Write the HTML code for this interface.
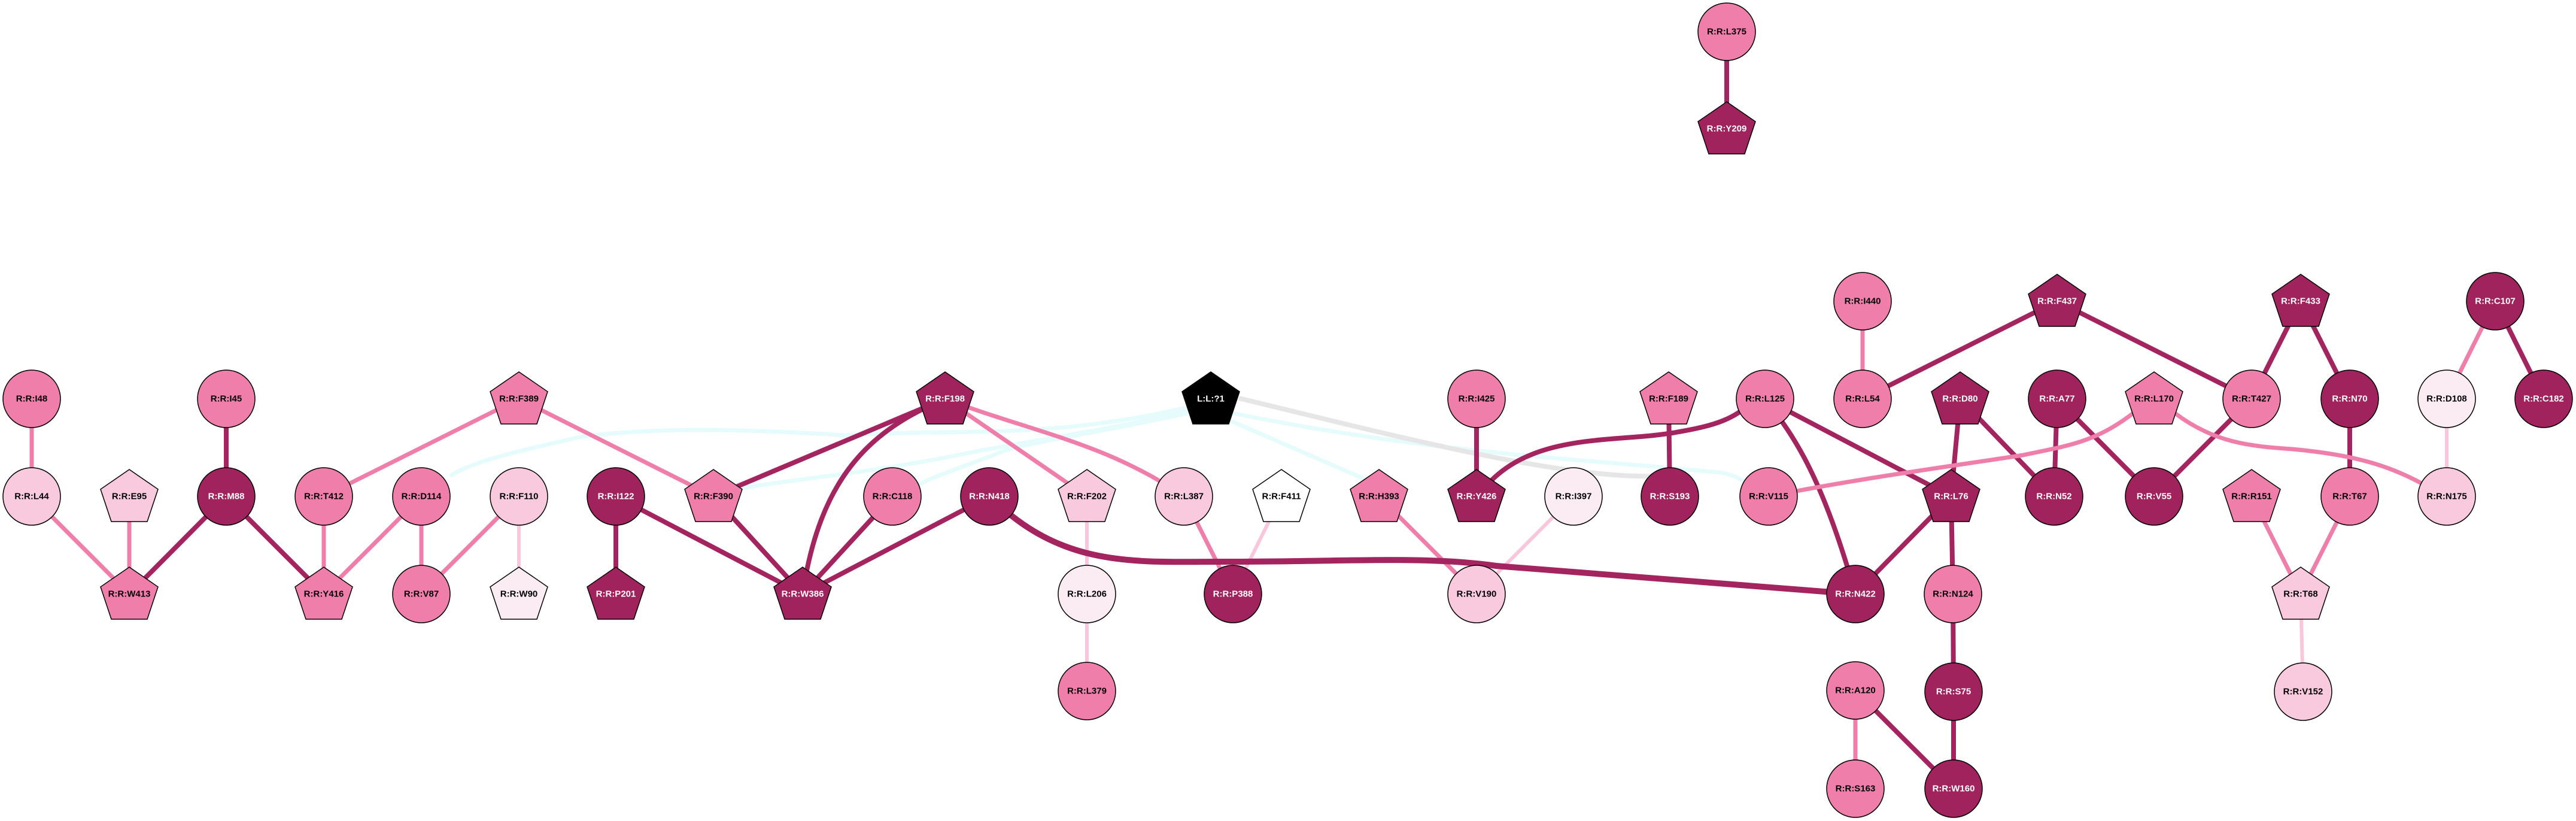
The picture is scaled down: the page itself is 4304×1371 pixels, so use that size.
<!DOCTYPE html>
<html><head><meta charset="utf-8"><style>
html,body{margin:0;padding:0;background:#fff;}
svg{display:block;}
text{font-family:"Liberation Sans",sans-serif;font-weight:bold;font-size:15px;text-anchor:middle;dominant-baseline:central;}
.w{fill:#fff}.b{fill:#000}
.d{stroke:#A3245F;stroke-width:8;fill:none}
.m{stroke:#F07EAA;stroke-width:7;fill:none}
.l{stroke:#F9C6DB;stroke-width:6;fill:none}
.c{stroke:#E6FCFC;stroke-width:7;fill:none}
.g{stroke:#E6E6E6;stroke-width:8;fill:none}
.n{stroke:#000;stroke-width:1.5}
</style></head><body>
<svg width="4304" height="1371" viewBox="0 0 4304 1371" xmlns="http://www.w3.org/2000/svg">
<defs><polygon id="pt" points="0,-45 48,-12 30,42 -30,42 -48,-12"/></defs>
<path class="c" d="M1985,680 C1750,735 1600,715 1414,727 C1250,717 1100,712 968,730 C860,755 790,770 752,795"/>
<path class="c" d="M1985,685 C1850,720 1750,730 1600,760 C1450,790 1330,800 1240,815"/>
<path class="c" d="M1985,690 C1800,730 1700,740 1660,760 C1580,790 1550,800 1535,810"/>
<path class="c" d="M2050,700 L2280,800"/>
<path class="c" d="M2060,690 C2400,760 2700,770 2880,790 C2900,795 2910,800 2915,805"/>
<path class="g" d="M2070,665 C2300,720 2600,800 2765,795"/>
<line class="m" x1="53" y1="666" x2="53" y2="829"/>
<line class="m" x1="53" y1="829" x2="216" y2="992"/>
<line class="m" x1="216" y1="829" x2="216" y2="992"/>
<line class="d" x1="378" y1="666" x2="378" y2="829"/>
<line class="d" x1="378" y1="829" x2="216" y2="992"/>
<line class="d" x1="378" y1="829" x2="541" y2="992"/>
<line class="m" x1="867" y1="666" x2="541" y2="829"/>
<line class="m" x1="867" y1="666" x2="1192" y2="829"/>
<line class="m" x1="541" y1="829" x2="541" y2="992"/>
<line class="m" x1="704" y1="829" x2="541" y2="992"/>
<line class="m" x1="704" y1="829" x2="704" y2="992"/>
<line class="m" x1="867" y1="829" x2="704" y2="992"/>
<line class="l" x1="867" y1="829" x2="867" y2="992"/>
<line class="d" x1="1029" y1="829" x2="1029" y2="992"/>
<line class="d" x1="1029" y1="829" x2="1341" y2="992"/>
<line class="d" x1="1192" y1="829" x2="1341" y2="992"/>
<line class="d" x1="1579" y1="666" x2="1192" y2="829"/>
<path class="d" d="M1579,666 C1450,720 1370,800 1341,992"/>
<line class="d" x1="1491" y1="829" x2="1341" y2="992"/>
<line class="d" x1="1653" y1="829" x2="1341" y2="992"/>
<line class="m" x1="1579" y1="666" x2="1816" y2="829"/>
<path class="m" d="M1579,666 C1720,720 1850,740 1978,829"/>
<line class="l" x1="1816" y1="829" x2="1816" y2="1154"/>
<line class="m" x1="1978" y1="829" x2="2060" y2="992"/>
<line class="l" x1="2141" y1="829" x2="2060" y2="992"/>
<line class="m" x1="2304" y1="829" x2="2467" y2="992"/>
<line class="l" x1="2629" y1="829" x2="2467" y2="992"/>
<line class="d" x1="2467" y1="666" x2="2467" y2="829"/>
<line class="d" x1="2788" y1="666" x2="2790" y2="829"/>
<path class="d" d="M2480,815 C2560,720 2700,740 2800,722 C2870,710 2895,700 2930,670"/>
<path class="d" style="stroke-width:10" d="M1660,835 C1780,950 1900,938 2050,938 C2250,938 2380,928 2500,945 L3100,992"/>
<path class="d" d="M2949,666 C2990,720 3040,780 3100,992"/>
<line class="d" x1="2949" y1="666" x2="3260" y2="829"/>
<line class="d" x1="3275" y1="666" x2="3260" y2="829"/>
<line class="d" x1="3275" y1="666" x2="3432" y2="829"/>
<line class="d" x1="3437" y1="666" x2="3432" y2="829"/>
<line class="d" x1="3437" y1="666" x2="3599" y2="829"/>
<line class="d" x1="3762" y1="666" x2="3599" y2="829"/>
<line class="d" x1="3260" y1="829" x2="3100" y2="992"/>
<line class="d" x1="3260" y1="829" x2="3263" y2="992"/>
<line class="d" x1="3263" y1="992" x2="3264" y2="1155"/>
<line class="d" x1="3264" y1="1155" x2="3264" y2="1317"/>
<line class="d" x1="3100" y1="1153" x2="3264" y2="1317"/>
<line class="m" x1="3100" y1="1153" x2="3100" y2="1317"/>
<line class="m" x1="3112" y1="503" x2="3112" y2="666"/>
<line class="d" x1="3437" y1="503" x2="3112" y2="666"/>
<line class="d" x1="3437" y1="503" x2="3762" y2="666"/>
<line class="d" x1="3844" y1="503" x2="3762" y2="666"/>
<line class="d" x1="3844" y1="503" x2="3926" y2="666"/>
<line class="d" x1="3926" y1="666" x2="3926" y2="829"/>
<line class="m" x1="3926" y1="829" x2="3844" y2="992"/>
<line class="m" x1="3762" y1="829" x2="3844" y2="992"/>
<line class="l" x1="3844" y1="992" x2="3848" y2="1155"/>
<line class="m" x1="4169" y1="503" x2="4088" y2="666"/>
<line class="d" x1="4169" y1="503" x2="4250" y2="666"/>
<line class="l" x1="4088" y1="666" x2="4088" y2="829"/>
<path class="m" d="M3564,690 C3500,740 3450,745 3380,760 C3250,780 3100,800 2955,829"/>
<path class="m" d="M3634,690 C3700,740 3760,745 3830,750 C3940,760 4000,780 4060,815"/>
<line class="d" x1="2885" y1="53" x2="2885" y2="215"/>
<g class="n">
<circle cx="53" cy="666" r="48" fill="#F07EAA"/>
<circle cx="378" cy="666" r="48" fill="#F07EAA"/>
<use href="#pt" x="867" y="666" fill="#F07EAA"/>
<use href="#pt" x="1579" y="666" fill="#A0235E"/>
<use href="#pt" x="2023" y="666" fill="#000"/>
<circle cx="2467" cy="666" r="48" fill="#F07EAA"/>
<use href="#pt" x="2788" y="666" fill="#F07EAA"/>
<circle cx="53" cy="829" r="48" fill="#F9C9DD"/>
<use href="#pt" x="216" y="829" fill="#F9C9DD"/>
<circle cx="378" cy="829" r="48" fill="#A0235E"/>
<circle cx="541" cy="829" r="48" fill="#F07EAA"/>
<circle cx="704" cy="829" r="48" fill="#F07EAA"/>
<circle cx="867" cy="829" r="48" fill="#F9C9DD"/>
<circle cx="1029" cy="829" r="48" fill="#A0235E"/>
<use href="#pt" x="1192" y="829" fill="#F07EAA"/>
<circle cx="1491" cy="829" r="48" fill="#F07EAA"/>
<circle cx="1653" cy="829" r="48" fill="#A0235E"/>
<use href="#pt" x="1816" y="829" fill="#F9C9DD"/>
<circle cx="1978" cy="829" r="48" fill="#F9C9DD"/>
<use href="#pt" x="2141" y="829" fill="#fff"/>
<use href="#pt" x="2304" y="829" fill="#F07EAA"/>
<use href="#pt" x="2467" y="829" fill="#A0235E"/>
<circle cx="2629" cy="829" r="48" fill="#FBEBF2"/>
<circle cx="2790" cy="829" r="48" fill="#A0235E"/>
<use href="#pt" x="216" y="992" fill="#F07EAA"/>
<use href="#pt" x="541" y="992" fill="#F07EAA"/>
<circle cx="704" cy="992" r="48" fill="#F07EAA"/>
<use href="#pt" x="867" y="992" fill="#FBEBF2"/>
<use href="#pt" x="1029" y="992" fill="#A0235E"/>
<use href="#pt" x="1341" y="992" fill="#A0235E"/>
<circle cx="1816" cy="992" r="48" fill="#FBEBF2"/>
<circle cx="2060" cy="992" r="48" fill="#A0235E"/>
<circle cx="2467" cy="992" r="48" fill="#F9C9DD"/>
<circle cx="1816" cy="1154" r="48" fill="#F07EAA"/>
<circle cx="2885" cy="53" r="48" fill="#F07EAA"/>
<use href="#pt" x="2885" y="215" fill="#A0235E"/>
<circle cx="3112" cy="503" r="48" fill="#F07EAA"/>
<use href="#pt" x="3437" y="503" fill="#A0235E"/>
<use href="#pt" x="3844" y="503" fill="#A0235E"/>
<circle cx="4169" cy="503" r="48" fill="#A0235E"/>
<circle cx="2949" cy="666" r="48" fill="#F07EAA"/>
<circle cx="3112" cy="666" r="48" fill="#F07EAA"/>
<use href="#pt" x="3275" y="666" fill="#A0235E"/>
<circle cx="3437" cy="666" r="48" fill="#A0235E"/>
<use href="#pt" x="3599" y="666" fill="#F07EAA"/>
<circle cx="3762" cy="666" r="48" fill="#F07EAA"/>
<circle cx="3926" cy="666" r="48" fill="#A0235E"/>
<circle cx="4088" cy="666" r="48" fill="#FBEBF2"/>
<circle cx="4250" cy="666" r="48" fill="#A0235E"/>
<circle cx="2955" cy="829" r="48" fill="#F07EAA"/>
<use href="#pt" x="3260" y="829" fill="#A0235E"/>
<circle cx="3432" cy="829" r="48" fill="#A0235E"/>
<circle cx="3599" cy="829" r="48" fill="#A0235E"/>
<use href="#pt" x="3762" y="829" fill="#F07EAA"/>
<circle cx="3926" cy="829" r="48" fill="#F07EAA"/>
<circle cx="4088" cy="829" r="48" fill="#F9C9DD"/>
<circle cx="3100" cy="992" r="48" fill="#A0235E"/>
<circle cx="3263" cy="992" r="48" fill="#F07EAA"/>
<use href="#pt" x="3844" y="992" fill="#F9C9DD"/>
<circle cx="3100" cy="1153" r="48" fill="#F07EAA"/>
<circle cx="3264" cy="1155" r="48" fill="#A0235E"/>
<circle cx="3848" cy="1155" r="48" fill="#F9C9DD"/>
<circle cx="3100" cy="1317" r="48" fill="#F07EAA"/>
<circle cx="3264" cy="1317" r="48" fill="#A0235E"/>
</g>
<g class="b">
<text x="53" y="666">R:R:I48</text><text x="378" y="666">R:R:I45</text><text x="867" y="666">R:R:F389</text>
<text x="2467" y="666">R:R:I425</text><text x="2788" y="666">R:R:F189</text>
<text x="53" y="829">R:R:L44</text><text x="216" y="829">R:R:E95</text><text x="541" y="829">R:R:T412</text>
<text x="704" y="829">R:R:D114</text><text x="867" y="829">R:R:F110</text><text x="1192" y="829">R:R:F390</text>
<text x="1491" y="829">R:R:C118</text><text x="1816" y="829">R:R:F202</text><text x="1978" y="829">R:R:L387</text>
<text x="2141" y="829">R:R:F411</text><text x="2304" y="829">R:R:H393</text><text x="2629" y="829">R:R:I397</text>
<text x="216" y="992">R:R:W413</text><text x="541" y="992">R:R:Y416</text><text x="704" y="992">R:R:V87</text>
<text x="867" y="992">R:R:W90</text><text x="1816" y="992">R:R:L206</text><text x="2467" y="992">R:R:V190</text>
<text x="1816" y="1154">R:R:L379</text><text x="2885" y="53">R:R:L375</text><text x="3112" y="503">R:R:I440</text>
<text x="2949" y="666">R:R:L125</text><text x="3112" y="666">R:R:L54</text><text x="3599" y="666">R:R:L170</text>
<text x="3762" y="666">R:R:T427</text><text x="4088" y="666">R:R:D108</text><text x="2955" y="829">R:R:V115</text>
<text x="3762" y="829">R:R:R151</text><text x="3926" y="829">R:R:T67</text><text x="4088" y="829">R:R:N175</text>
<text x="3263" y="992">R:R:N124</text><text x="3844" y="992">R:R:T68</text><text x="3100" y="1153">R:R:A120</text>
<text x="3848" y="1155">R:R:V152</text><text x="3100" y="1317">R:R:S163</text>
</g>
<g class="w">
<text x="1579" y="666">R:R:F198</text><text x="2023" y="666">L:L:?1</text>
<text x="378" y="829">R:R:M88</text><text x="1029" y="829">R:R:I122</text><text x="1653" y="829">R:R:N418</text>
<text x="2467" y="829">R:R:Y426</text><text x="2790" y="829">R:R:S193</text>
<text x="1029" y="992">R:R:P201</text><text x="1341" y="992">R:R:W386</text><text x="2060" y="992">R:R:P388</text>
<text x="2885" y="215">R:R:Y209</text><text x="3437" y="503">R:R:F437</text><text x="3844" y="503">R:R:F433</text>
<text x="4169" y="503">R:R:C107</text><text x="3275" y="666">R:R:D80</text><text x="3437" y="666">R:R:A77</text>
<text x="3926" y="666">R:R:N70</text><text x="4250" y="666">R:R:C182</text><text x="3260" y="829">R:R:L76</text>
<text x="3432" y="829">R:R:N52</text><text x="3599" y="829">R:R:V55</text><text x="3100" y="992">R:R:N422</text>
<text x="3264" y="1155">R:R:S75</text><text x="3264" y="1317">R:R:W160</text>
</g>
</svg>
</body></html>
